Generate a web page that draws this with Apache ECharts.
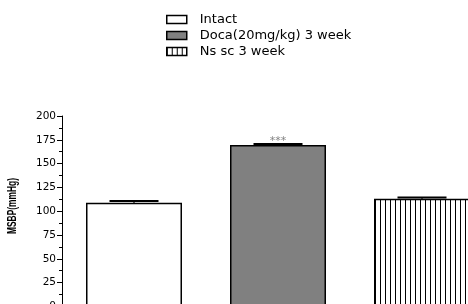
<!DOCTYPE html>
<html>
<head>
<meta charset="utf-8"/>
<title>MSBP</title>
<script src="https://cdn.jsdelivr.net/npm/echarts@6/dist/echarts.min.js"></script>
<style>
  html, body { margin: 0; padding: 0; background: #fff; }
  #chart { width: 468px; height: 304px; }
</style>
</head>
<body>
<div id="chart"></div>
<script type="text/javascript">
// groups, mean MSBP, SEM and significance marks
var groups = ['Intact', 'Doca(20mg/kg) 3 week', 'Ns sc 3 week'];
var means = [108.8, 169.5, 113.0];
var errs = [1.8, 1.2, 1.4];
var signif = ['', '***', ''];
var yTicks = [0, 25, 50, 75, 100, 125, 150, 175, 200];

// vertical stripe fill for the third group
var stripe = document.createElement('canvas');
stripe.width = 5;
stripe.height = 5;
var sctx = stripe.getContext('2d');
sctx.fillStyle = '#fff';
sctx.fillRect(0, 0, 5, 5);
sctx.fillStyle = '#000';
sctx.fillRect(0, 0, 1, 5);

var fills = ['#ffffff', '#808080', { image: stripe, repeat: 'repeat' }];

var chart = echarts.init(document.getElementById('chart'));

var series = groups.map(function (name, i) {
    return {
        name: name,
        type: 'bar',
        barWidth: 96,
        barGap: '-100%',
        itemStyle: { color: fills[i], borderColor: '#000', borderWidth: 1.5 },
        data: groups.map(function (g, j) { return j === i ? means[j] : '-'; }),
        animation: false
    };
});

series.push({
    type: 'custom',
    name: 'err',
    z: 5,
    animation: false,
    data: means.map(function (m, i) { return [i, m, errs[i], signif[i]]; }),
    renderItem: function (params, api) {
        var top = api.coord([api.value(0), api.value(1) + api.value(2)]);
        var base = api.coord([api.value(0), api.value(1)]);
        var half = 24.5;
        var kids = [
            { type: 'line', shape: { x1: top[0], y1: base[1], x2: top[0], y2: top[1] },
              style: { stroke: '#000', lineWidth: 1.5 } },
            { type: 'line', shape: { x1: top[0] - half, y1: top[1], x2: top[0] + half, y2: top[1] },
              style: { stroke: '#000', lineWidth: 2 } }
        ];
        var s = signif[params.dataIndex];
        if (s) {
            kids.push({ type: 'text', x: top[0], y: top[1] + 3,
                style: { text: s, fill: '#808080', font: '11px "DejaVu Sans"', align: 'center', verticalAlign: 'bottom' } });
        }
        return { type: 'group', children: kids };
    }
});

var option = {
    backgroundColor: '#fff',
    animation: false,
    legend: {
        data: groups,
        orient: 'vertical',
        left: 166,
        top: 13,
        padding: 0,
        itemWidth: 20,
        itemHeight: 8,
        itemGap: 3,
        icon: 'rect',
        itemStyle: { borderColor: '#000', borderWidth: 1.5 },
        textStyle: { fontFamily: 'DejaVu Sans', fontSize: 13, color: '#000', lineHeight: 13, padding: [0, 0, 0, 8] },
        selectedMode: false
    },
    grid: { left: 62, top: 116, width: 432, height: 190.4, outerBoundsMode: 'none', containLabel: false },
    xAxis: {
        type: 'category',
        data: groups,
        axisLine: { show: false },
        axisTick: { show: false },
        axisLabel: { show: false }
    },
    yAxis: {
        type: 'value',
        min: yTicks[0],
        max: yTicks[yTicks.length - 1],
        interval: 25,
        axisLine: { show: true, lineStyle: { color: '#000', width: 1 } },
        axisTick: { show: true, length: 5, lineStyle: { color: '#000' } },
        minorTick: { show: true, splitNumber: 2, length: 3, lineStyle: { color: '#000' } },
        axisLabel: { fontFamily: 'DejaVu Sans', fontSize: 10.5, color: '#000', margin: 6 },
        splitLine: { show: false }
    },
    graphic: [{
        type: 'text',
        x: 13,
        y: 206,
        rotation: Math.PI / 2,
        scaleX: 0.7,
        style: { text: 'MSBP(mmHg)', font: 'bold 12px "Liberation Sans"', fill: '#000', align: 'center', verticalAlign: 'middle' }
    }],
    series: series
};
chart.setOption(option);
</script>
</body>
</html>
